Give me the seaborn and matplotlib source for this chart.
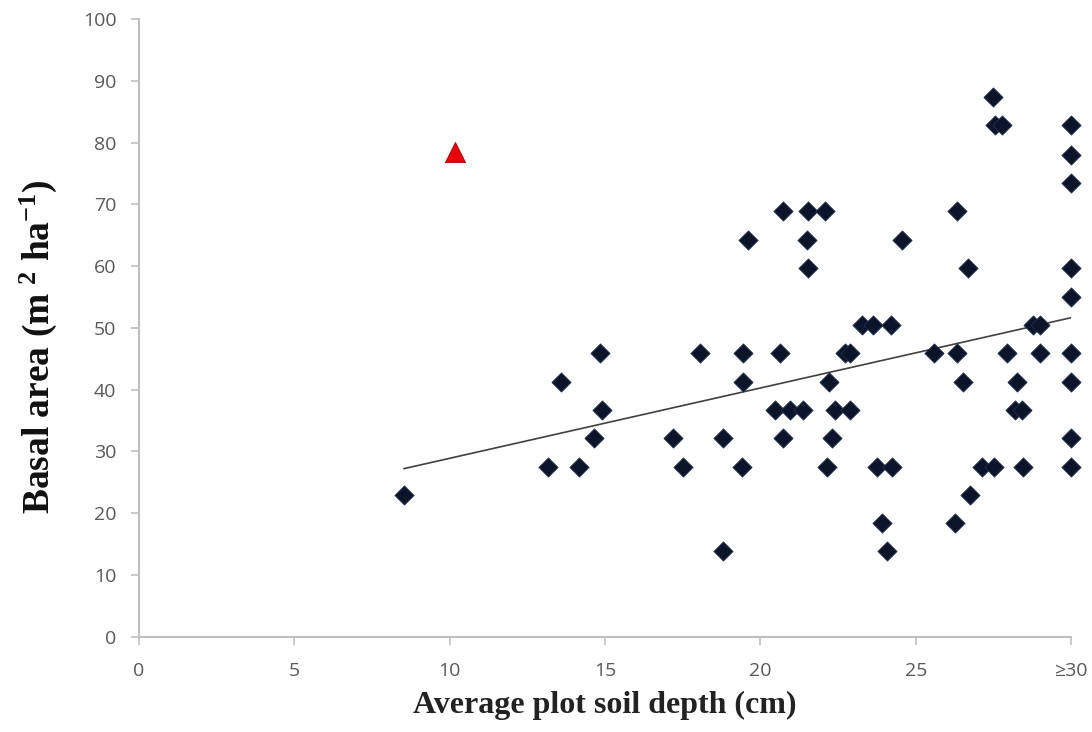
import numpy as np
import pandas as pd
import matplotlib
matplotlib.use('Agg')
import matplotlib.pyplot as plt
import seaborn as sns

# Pontos (profundidade média do solo x área basal)
depth = [27.49,
         27.55, 27.78, 30.0,
         30.0,
         30.0,
         20.74, 21.54, 22.08, 26.32,
         19.59, 21.49, 24.55,
         21.54, 26.69, 30.0,
         30.0,
         23.26, 23.63, 24.19, 28.78, 29.0,
         14.84, 18.06, 19.45, 20.63, 22.72, 22.88, 25.59, 26.32, 27.94, 29.0, 30.0,
         13.58, 19.45, 22.2, 26.53, 28.25, 30.0,
         14.89, 20.47, 20.95, 21.38, 22.41, 22.89, 28.19, 28.41,
         14.65, 17.2, 18.81, 20.74, 22.3, 30.0,
         13.17, 14.17, 17.5, 19.4, 22.13, 23.74, 24.23, 27.12, 27.5, 28.46, 30.0,
         8.53, 26.75,
         23.9, 26.26,
         18.79, 24.06]
basal = [87.4,
         82.8, 82.8, 82.8,
         78.0,
         73.5,
         68.9, 68.9, 68.9, 68.9,
         64.2, 64.2, 64.2,
         59.7, 59.7, 59.7,
         55.0,
         50.5, 50.5, 50.5, 50.5, 50.5,
         46.0, 46.0, 46.0, 46.0, 46.0, 46.0, 46.0, 46.0, 46.0, 46.0, 46.0,
         41.3, 41.3, 41.3, 41.3, 41.3, 41.3,
         36.7, 36.7, 36.7, 36.7, 36.7, 36.7, 36.7, 36.7,
         32.2, 32.2, 32.2, 32.2, 32.2, 32.2,
         27.5, 27.5, 27.5, 27.5, 27.5, 27.5, 27.5, 27.5, 27.5, 27.5, 27.5,
         23.0, 23.0,
         18.4, 18.4,
         13.9, 13.9]

# ponto excluído (triângulo vermelho)
outlier_depth = [10.17]
outlier_basal = [78.5]

x_ticks = [0, 5, 10, 15, 20, 25, 30]
x_ticklabels = ['0', '5', '10', '15', '20', '25', '≥30']
y_ticks = list(range(0, 101, 10))

dados = pd.DataFrame({'depth': depth, 'basal': basal})
outlier = pd.DataFrame({'depth': outlier_depth, 'basal': outlier_basal})

sns.set_style('white')
plt.rcParams['mathtext.default'] = 'regular'

fig = plt.figure(figsize=(10.92, 7.32), dpi=100)
ax = fig.add_axes([0.127, 0.130, 0.854, 0.844])

# linha de tendência
sns.regplot(data=dados, x='depth', y='basal', scatter=False, ci=None, ax=ax,
            line_kws={'color': '#404040', 'linewidth': 1.2})

sns.scatterplot(data=dados, x='depth', y='basal', marker='D', s=95,
                color='#0b1428', edgecolor='#1f3050', linewidth=0.6, ax=ax,
                zorder=3, clip_on=False)
sns.scatterplot(data=outlier, x='depth', y='basal', marker='^', s=210,
                color='#e8000b', edgecolor='#b00000', linewidth=0.6, ax=ax,
                zorder=3, clip_on=False)

ax.set_xlim(0, 30)
ax.set_ylim(0, 100)
ax.set_xticks(x_ticks)
ax.set_xticklabels(x_ticklabels, fontfamily=['Open Sans', 'DejaVu Sans'],
                   fontsize=14, color='#595959')
ax.set_yticks(y_ticks)
for lab in ax.get_yticklabels():
    lab.set_fontfamily('Open Sans')
    lab.set_fontsize(14)
    lab.set_color('#595959')

for side in ['top', 'right']:
    ax.spines[side].set_visible(False)
for side in ['left', 'bottom']:
    ax.spines[side].set_color('#bfbfbf')
    ax.spines[side].set_linewidth(1.5)

ax.tick_params(axis='both', which='major', direction='out', length=6, width=1.2,
               color='#bfbfbf', left=True, bottom=True)
ax.tick_params(axis='y', pad=10)
ax.tick_params(axis='x', pad=12)

ax.set_xlabel('Average plot soil depth (cm)', fontfamily='Liberation Serif',
              fontsize=23, fontweight='bold', color='#222222', labelpad=8)
ax.set_ylabel('Basal area (m$^{\\ 2}$ ha$^{-1}$)', fontfamily='Liberation Serif',
              fontsize=27, fontweight='bold', color='#111111', labelpad=14)
ax.yaxis.set_label_coords(-0.085, 0.47)

plt.savefig('out.png', dpi=100)
